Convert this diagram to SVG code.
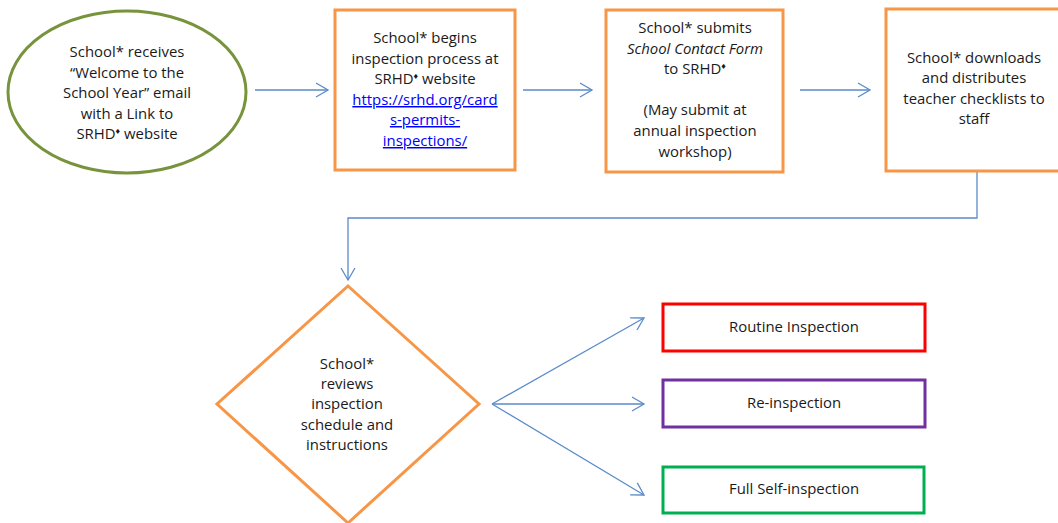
<svg xmlns="http://www.w3.org/2000/svg" width="1058" height="523" viewBox="0 0 1058 523">
<defs>
<style>
text{font-family:"Open Sans","Liberation Sans",Arial,sans-serif;font-size:14.9px;fill:#1a1a1a;text-anchor:middle}
.lnk{fill:#0000ff;text-decoration:underline}
.sup{font-size:9px}
.c{fill:none;stroke:#5b8bc9;stroke-width:1.3}
.ob{fill:#fff;stroke:#f79646;stroke-width:3}
</style>
<marker id="ah" markerUnits="userSpaceOnUse" markerWidth="16" markerHeight="16" refX="13" refY="8" orient="auto" viewBox="0 0 16 16">
<path d="M1,1 L13,8 L1,15" fill="none" stroke="#5b8bc9" stroke-width="1.3"/>
</marker>
</defs>
<rect width="1058" height="523" fill="#fff"/>
<g id="connectors">
<line class="c" x1="255" y1="90" x2="328" y2="90" marker-end="url(#ah)"/>
<line class="c" x1="523" y1="90" x2="592" y2="90" marker-end="url(#ah)"/>
<line class="c" x1="800" y1="90" x2="870" y2="90" marker-end="url(#ah)"/>
<polyline class="c" points="977,172 977,218 348,218 348,280" marker-end="url(#ah)"/>
<line class="c" x1="492" y1="404" x2="644" y2="318" marker-end="url(#ah)"/>
<line class="c" x1="492" y1="404" x2="644" y2="404" marker-end="url(#ah)"/>
<line class="c" x1="492" y1="404" x2="644" y2="495" marker-end="url(#ah)"/>
</g>
<g id="n1">
<ellipse cx="127" cy="92" rx="119" ry="81" fill="#fff" stroke="#77933c" stroke-width="3"/>
<text x="127" y="57">School* receives</text>
<text x="127" y="78">“Welcome to the</text>
<text x="127" y="98">School Year” email</text>
<text x="127" y="119">with a Link to</text>
<text x="127" y="139">SRHD<tspan class="sup" dy="-5">♦</tspan><tspan dy="5"> website</tspan></text>
</g>
<g id="n2">
<rect class="ob" x="335" y="10" width="180" height="160"/>
<text x="425" y="43">School* begins</text>
<text x="425" y="64">inspection process at</text>
<text x="425" y="84">SRHD<tspan class="sup" dy="-5">♦</tspan><tspan dy="5"> website</tspan></text>
<text x="425" y="105" class="lnk">https://srhd.org/card</text>
<text x="425" y="125" class="lnk">s-permits-</text>
<text x="425" y="146" class="lnk">inspections/</text>
</g>
<g id="n3">
<rect class="ob" x="606" y="10" width="177" height="162"/>
<text x="695" y="33">School* submits</text>
<text x="695" y="54" font-style="italic" font-size="15.8">School Contact Form</text>
<text x="695" y="74">to SRHD<tspan class="sup" dy="-5">♦</tspan></text>
<text x="695" y="115">(May submit at</text>
<text x="695" y="136">annual inspection</text>
<text x="695" y="157">workshop)</text>
</g>
<g id="n4">
<rect class="ob" x="886" y="9" width="180" height="162"/>
<text x="974" y="63">School* downloads</text>
<text x="974" y="83">and distributes</text>
<text x="974" y="104">teacher checklists to</text>
<text x="974" y="124">staff</text>
</g>
<g id="n5">
<polygon class="ob" points="348,286 479,404 348,523 217,404"/>
<text x="347" y="369">School*</text>
<text x="347" y="389">reviews</text>
<text x="347" y="409">inspection</text>
<text x="347" y="430">schedule and</text>
<text x="347" y="450">instructions</text>
</g>
<g id="n6">
<rect x="663" y="304" width="262" height="47" fill="#fff" stroke="#ff0000" stroke-width="3"/>
<text x="794" y="332">Routine Inspection</text>
</g>
<g id="n7">
<rect x="663" y="380" width="262" height="47" fill="#fff" stroke="#7030a0" stroke-width="3"/>
<text x="794" y="408">Re-inspection</text>
</g>
<g id="n8">
<rect x="663" y="467" width="261" height="46" fill="#fff" stroke="#00b050" stroke-width="3"/>
<text x="794" y="494">Full Self-inspection</text>
</g>
</svg>
